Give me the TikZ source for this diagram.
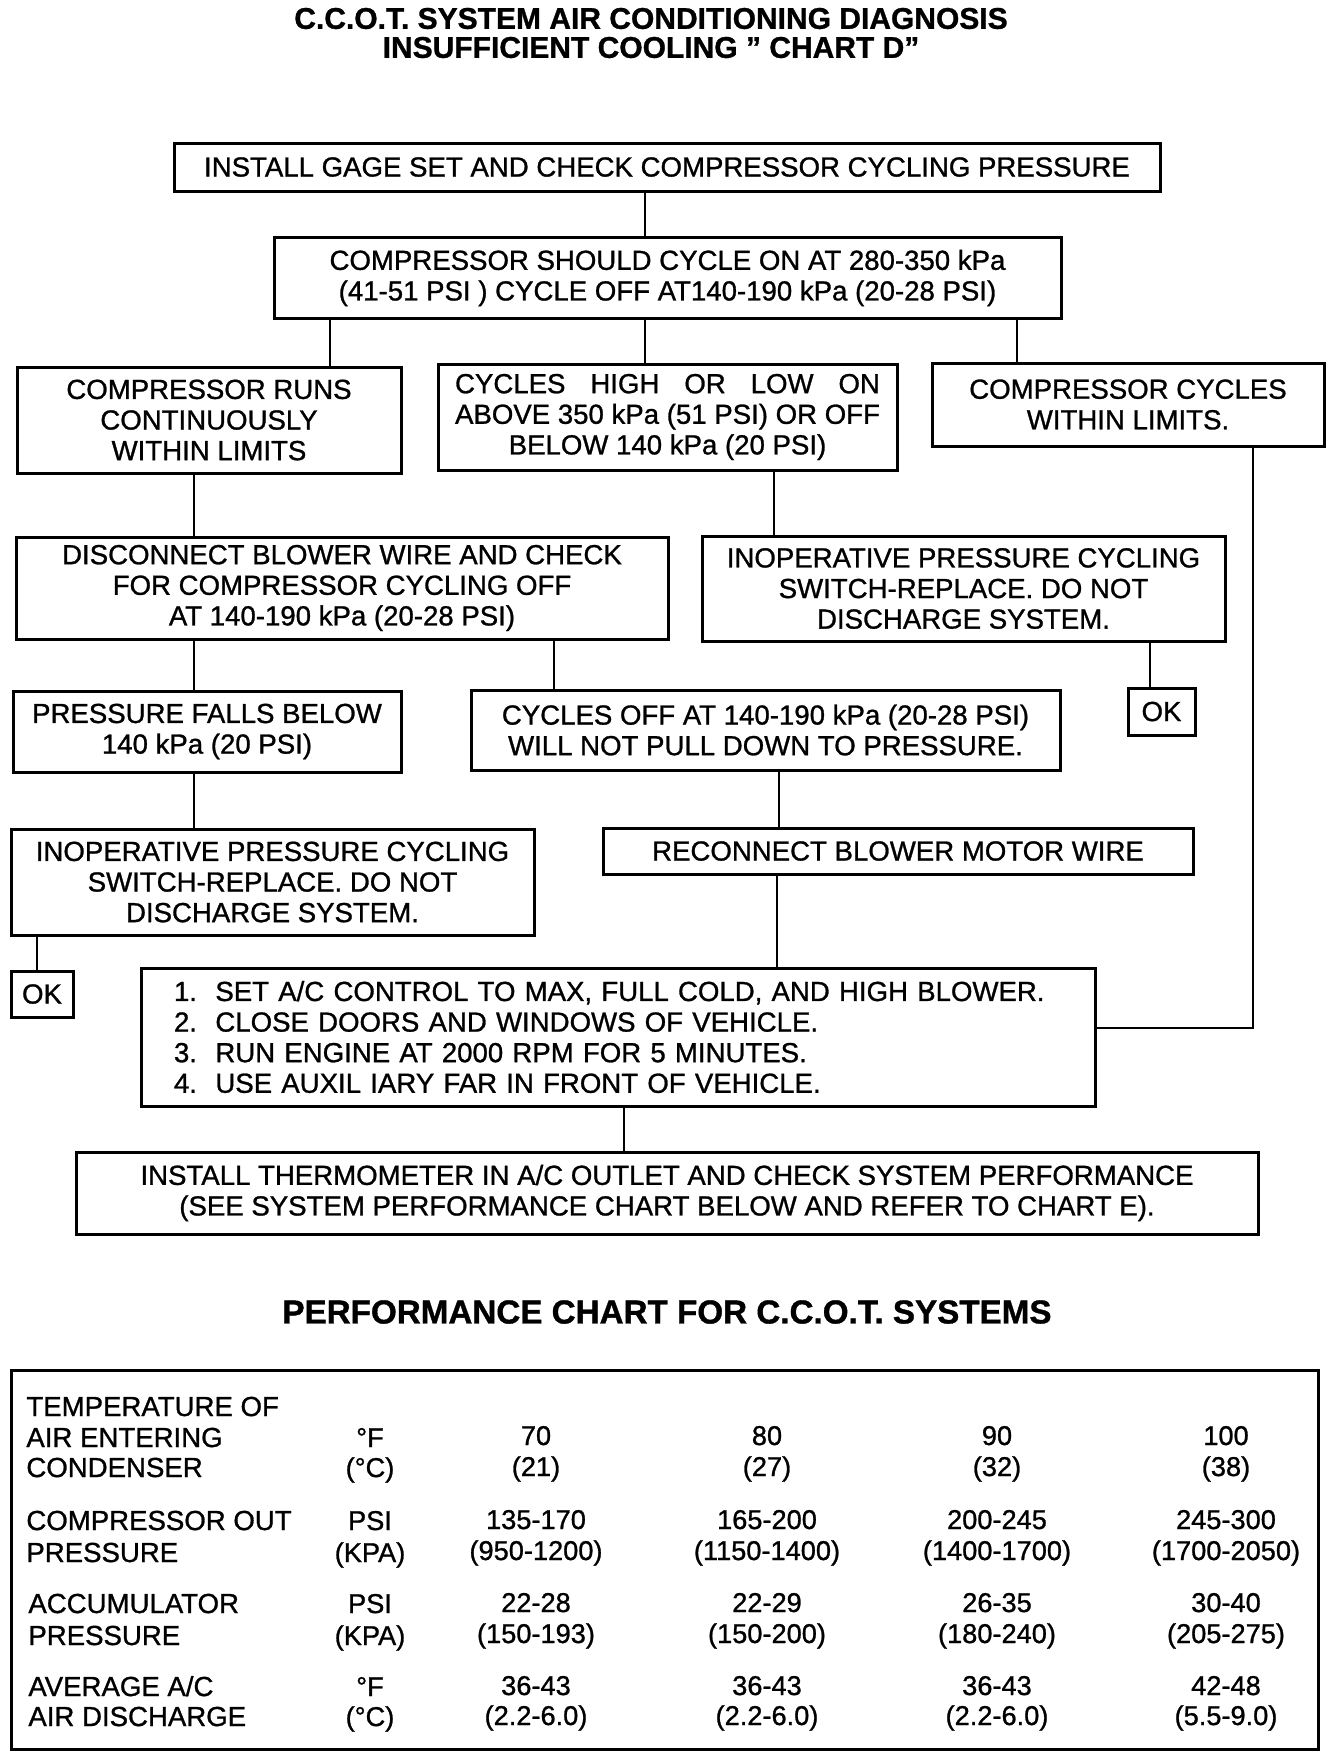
\documentclass[tikz,border=0pt]{standalone}
\usepackage{fontspec}
\usepackage{calc}
\setmainfont{Liberation Sans}[FakeBold=1]
\begin{document}
\begin{tikzpicture}[x=0.5pt,y=-0.5pt,
  box/.style={draw, line width=1.5pt, inner sep=0pt, align=center, font=\fontsize{13.8}{15.3}\selectfont},
  conn/.style={line width=1.2pt},
  ttl/.style={font=\fontsize{15}{14.5}\selectfont\bfseries, align=center},
  cell/.style={inner sep=0pt, anchor=base, font=\fontsize{13.6}{15}\selectfont},
  lcell/.style={inner sep=0pt, anchor=base west, font=\fontsize{13.8}{15}\selectfont}]
\useasboundingbox[fill=white] (0,0) rectangle (1344,1758);

\node[ttl] (title) at (651,33) {C.C.O.T. SYSTEM AIR CONDITIONING DIAGNOSIS\\INSUFFICIENT COOLING " CHART D"};

\node[box, minimum width=493pt, minimum height=24pt] (b1) at (667,167) {INSTALL GAGE SET AND CHECK COMPRESSOR CYCLING PRESSURE};
\node[box, minimum width=393.5pt, minimum height=40.5pt] (b2) at (667.5,278) {COMPRESSOR SHOULD CYCLE ON AT 280-350 kPa\\(41-51 PSI ) CYCLE OFF AT140-190 kPa (20-28 PSI)};
\node[box, minimum width=192pt, minimum height=53pt] (b3a) at (209,420) {COMPRESSOR RUNS\\CONTINUOUSLY\\WITHIN LIMITS};
\node[box, minimum width=229.5pt, minimum height=53pt] (b3b) at (667.5,417) {\makebox[\widthof{ABOVE 350 kPa (51 PSI) OR OFF}][s]{CYCLES HIGH OR LOW ON}\\ABOVE 350 kPa (51 PSI) OR OFF\\BELOW 140 kPa (20 PSI)};
\node[box, minimum width=196pt, minimum height=41.5pt] (b3c) at (1128,404.5) {COMPRESSOR CYCLES\\WITHIN LIMITS.};
\node[box, minimum width=326pt, minimum height=51pt] (b4a) at (342,588) {DISCONNECT BLOWER WIRE AND CHECK\\FOR COMPRESSOR CYCLING OFF\\AT 140-190 kPa (20-28 PSI)};
\node[box, minimum width=261.5pt, minimum height=52.5pt] (b4b) at (963.5,588.5) {INOPERATIVE PRESSURE CYCLING\\SWITCH-REPLACE. DO NOT\\DISCHARGE SYSTEM.};
\node[box, minimum width=33.5pt, minimum height=23.5pt] (ok1) at (1161.5,711.5) {OK};
\node[box, minimum width=194pt, minimum height=40.5pt] (b5a) at (207,731.5) {PRESSURE FALLS BELOW\\140 kPa (20 PSI)};
\node[box, minimum width=294.5pt, minimum height=40pt] (b5b) at (765.5,730) {CYCLES OFF AT 140-190 kPa (20-28 PSI)\\WILL NOT PULL DOWN TO PRESSURE.};
\node[box, minimum width=261.5pt, minimum height=53pt] (b6a) at (272.5,882) {INOPERATIVE PRESSURE CYCLING\\SWITCH-REPLACE. DO NOT\\DISCHARGE SYSTEM.};
\node[box, minimum width=295pt, minimum height=23pt] (b6b) at (898,851) {RECONNECT BLOWER MOTOR WIRE};
\node[box, minimum width=31pt, minimum height=23pt] (ok2) at (42,994) {OK};
\node[box, minimum width=477pt, minimum height=69pt, text width=444pt, align=left] (b7) at (618,1037) {1.\ \ SET A/C CONTROL TO MAX, FULL COLD, AND HIGH BLOWER.\\2.\ \ CLOSE DOORS AND WINDOWS OF VEHICLE.\\3.\ \ RUN ENGINE AT 2000 RPM FOR 5 MINUTES.\\4.\ \ USE AUXIL IARY FAR IN FRONT OF VEHICLE.};
\node[box, minimum width=591pt, minimum height=41pt] (b8) at (667,1193) {INSTALL THERMOMETER IN A/C OUTLET AND CHECK SYSTEM PERFORMANCE\\(SEE SYSTEM PERFORMANCE CHART BELOW AND REFER TO CHART E).};

\draw[conn] (b1.south -| 645,0) -- (b2.north -| 645,0);
\draw[conn] (b2.south -| 330,0) -- (b3a.north -| 330,0);
\draw[conn] (b2.south -| 645,0) -- (b3b.north -| 645,0);
\draw[conn] (b2.south -| 1017,0) -- (b3c.north -| 1017,0);
\draw[conn] (b3a.south -| 194,0) -- (b4a.north -| 194,0);
\draw[conn] (b3b.south -| 774,0) -- (b4b.north -| 774,0);
\draw[conn] (b3c.south -| 1253,0) |- (b7.east |- 0,1028);
\draw[conn] (b4b.south -| 1150,0) -- (ok1.north -| 1150,0);
\draw[conn] (b4a.south -| 194,0) -- (b5a.north -| 194,0);
\draw[conn] (b4a.south -| 554,0) -- (b5b.north -| 554,0);
\draw[conn] (b5a.south -| 194,0) -- (b6a.north -| 194,0);
\draw[conn] (b5b.south -| 779,0) -- (b6b.north -| 779,0);
\draw[conn] (b6a.south -| 37,0) -- (ok2.north -| 37,0);
\draw[conn] (b6b.south -| 777,0) -- (b7.north -| 777,0);
\draw[conn] (b7.south -| 624,0) -- (b8.north -| 624,0);

\node[ttl, font=\fontsize{16.6}{17}\selectfont\bfseries] (ptitle) at (667,1312) {PERFORMANCE CHART FOR C.C.O.T. SYSTEMS};
\node[draw, line width=1.5pt, minimum width=653.5pt, minimum height=189.5pt, inner sep=0pt] (tbl) at (664.5,1559.5) {};

% left labels
\node[lcell] (l1) at (26,1416) {TEMPERATURE OF};
\node[lcell] (l2) at (26,1447) {AIR ENTERING};
\node[lcell] (l3) at (26,1477) {CONDENSER};
\node[lcell] (l4) at (26,1530) {COMPRESSOR OUT};
\node[lcell] (l5) at (26,1562) {PRESSURE};
\node[lcell] (l6) at (28,1613) {ACCUMULATOR};
\node[lcell] (l7) at (28,1645) {PRESSURE};
\node[lcell] (l8) at (28,1696) {AVERAGE A/C};
\node[lcell] (l9) at (28,1726) {AIR DISCHARGE};
% units
\node[cell] (u1) at (370,1447) {°F};
\node[cell] (u2) at (370,1477) {(°C)};
\node[cell] (u3) at (370,1530) {PSI};
\node[cell] (u4) at (370,1562) {(KPA)};
\node[cell] (u5) at (370,1613) {PSI};
\node[cell] (u6) at (370,1645) {(KPA)};
\node[cell] (u7) at (370,1696) {°F};
\node[cell] (u8) at (370,1726) {(°C)};
% values
\foreach \x/\a/\b/\c/\d/\e/\f/\g/\h [count=\i] in {
  536/70/(21)/135-170/(950-1200)/22-28/(150-193)/36-43/(2.2-6.0),
  767/80/(27)/165-200/(1150-1400)/22-29/(150-200)/36-43/(2.2-6.0),
  997/90/(32)/200-245/(1400-1700)/26-35/(180-240)/36-43/(2.2-6.0),
  1226/100/(38)/245-300/(1700-2050)/30-40/(205-275)/42-48/(5.5-9.0)}{
  \node[cell] (v\i a) at (\x,1445) {\a};
  \node[cell] (v\i b) at (\x,1476) {\b};
  \node[cell] (v\i c) at (\x,1529) {\c};
  \node[cell] (v\i d) at (\x,1560) {\d};
  \node[cell] (v\i e) at (\x,1612) {\e};
  \node[cell] (v\i f) at (\x,1643) {\f};
  \node[cell] (v\i g) at (\x,1695) {\g};
  \node[cell] (v\i h) at (\x,1725) {\h};
}
\end{tikzpicture}
\end{document}
